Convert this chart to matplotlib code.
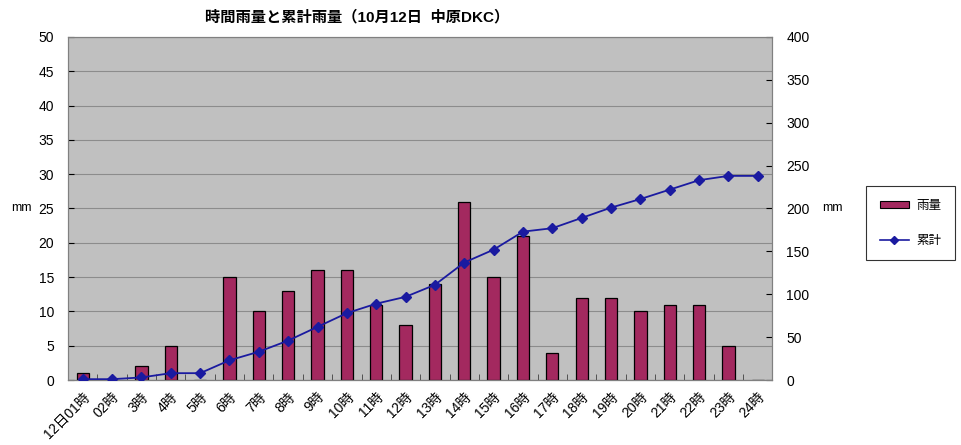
import matplotlib
matplotlib.use('Agg')
import matplotlib.pyplot as plt
from matplotlib.lines import Line2D
from matplotlib.patches import Patch

plt.rcParams['font.family'] = ['Liberation Sans', 'Noto Sans CJK JP']

# 時刻ラベル
hours = ['12日01時', '02時', '3時', '4時', '5時', '6時', '7時', '8時', '9時', '10時',
         '11時', '12時', '13時', '14時', '15時', '16時', '17時', '18時', '19時', '20時',
         '21時', '22時', '23時', '24時']
# 時間雨量 (mm)
rain = [1, 0, 2, 5, 0, 15, 10, 13, 16, 16, 11, 8, 14, 26, 15, 21, 4, 12, 12, 10,
        11, 11, 5, 0]
# 累計雨量 (mm)
total = [1, 1, 3, 8, 8, 23, 33, 46, 62, 78, 89, 97, 111, 137, 152, 173, 177, 189,
         201, 211, 222, 233, 238, 238]

bar_color = '#A3295F'
line_color = '#1A1AA0'

fig = plt.figure(figsize=(9.61, 4.45), dpi=100)
ax = fig.add_axes([0.0708, 0.146, 0.733, 0.771])
ax.set_facecolor('#C0C0C0')

x = list(range(len(hours)))
ax.bar(x, rain, width=0.42, color=bar_color, edgecolor='black', linewidth=0.9, zorder=3)

ax.set_xlim(-0.5, len(hours) - 0.5)
ax.set_ylim(0, 50)
ax.set_yticks(range(0, 51, 5))
ax.grid(axis='y', color='#8C8C8C', linewidth=0.8, zorder=0)
ax.set_xticks(x)
ax.set_xticklabels(hours, rotation=45, ha='right', rotation_mode='anchor', fontsize=10)
ax.set_xticks([i + 0.5 for i in x[:-1]], minor=True)
ax.tick_params(axis='x', which='major', length=0, pad=7)
ax.tick_params(axis='x', which='minor', direction='in', length=4, color='#404040')
ax.tick_params(axis='y', direction='in', length=4, labelsize=10, pad=10)
ax.set_ylabel('mm', rotation=0, fontsize=9, labelpad=12, va='center')
for s in ax.spines.values():
    s.set_color('#808080')
ax.spines['bottom'].set_color('#404040')

ax2 = ax.twinx()
ax2.plot(x, total, color=line_color, marker='D', markersize=5, linewidth=1.3, zorder=4)
ax2.set_ylim(0, 400)
ax2.set_yticks(range(0, 401, 50))
ax2.tick_params(axis='y', direction='in', length=4, labelsize=10, pad=10)
ax2.set_ylabel('mm', rotation=0, fontsize=9, labelpad=16, va='center')
for s in ax2.spines.values():
    s.set_color('#808080')

fig.text(0.372, 0.962, '時間雨量と累計雨量（10月12日  中原DKC）', ha='center', va='center',
         fontsize=11, fontweight='bold')

handles = [Patch(facecolor=bar_color, edgecolor='black', linewidth=0.8),
           Line2D([0], [0], color=line_color, marker='D', markersize=4, linewidth=1.2)]
leg = fig.legend(handles, ['雨量', '累計'], loc='upper left',
                 bbox_to_anchor=(0.895, 0.595), fontsize=9, frameon=True,
                 fancybox=False, edgecolor='black', handlelength=2.3,
                 handletextpad=0.6, handleheight=0.5, labelspacing=1.8,
                 borderpad=1.1)
leg.get_frame().set_linewidth(0.8)

plt.savefig('out.png', dpi=100)
plt.close()
